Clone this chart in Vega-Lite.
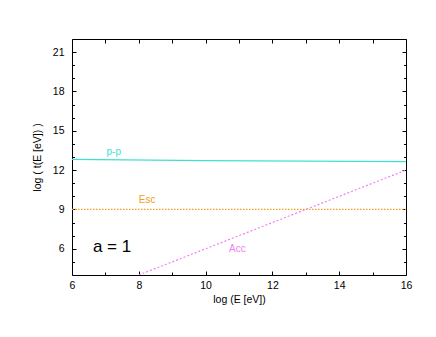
{
  "$schema": "https://vega.github.io/schema/vega-lite/v6.json",
  "width": 334,
  "height": 236,
  "autosize": "none",
  "padding": {"left": 72, "top": 39, "right": 30, "bottom": 62},
  "background": "white",
  "config": {
    "view": {"stroke": "#000", "strokeWidth": 1},
    "font": "Liberation Sans",
    "axis": {"grid": false, "domain": false, "labelFlush": false, "labelOverlap": false, "tickColor": "#000", "labelColor": "#000", "titleColor": "#000", "labelFont": "Liberation Sans", "titleFont": "Liberation Sans", "labelFontSize": 10.5, "titleFontSize": 10.5, "titleFontWeight": "normal"}
  },
  "datasets": {
    "lines": [
      {"series": "p-p", "E": 6, "t": 12.82},
      {"series": "p-p", "E": 10, "t": 12.72},
      {"series": "p-p", "E": 16, "t": 12.64},
      {"series": "Esc", "E": 6, "t": 9},
      {"series": "Esc", "E": 16, "t": 9},
      {"series": "Acc", "E": 8, "t": 4},
      {"series": "Acc", "E": 16, "t": 12}
    ],
    "labels": [
      {"series": "p-p", "E": 7.25, "t": 13.4},
      {"series": "Esc", "E": 8.25, "t": 9.7},
      {"series": "Acc", "E": 10.95, "t": 6.0}
    ],
    "note": [
      {"text": "a = 1", "E": 7.2, "t": 6.1}
    ]
  },
  "resolve": {"axis": {"x": "independent", "y": "independent"}},
  "layer": [
    {
      "data": {"name": "lines"},
      "transform": [{"filter": "datum.series === 'p-p'"}],
      "mark": {"type": "line", "color": "#40e0d0", "strokeWidth": 1.3, "clip": true},
      "encoding": {
        "x": {"field": "E", "type": "quantitative", "scale": {"domain": [6, 16], "nice": false, "zero": false},
          "axis": {"title": "log (E [eV])", "values": [6, 8, 10, 12, 14, 16], "tickSize": -4, "labelPadding": 9, "titlePadding": 4, "orient": "bottom"}},
        "y": {"field": "t", "type": "quantitative", "scale": {"domain": [4, 22], "nice": false, "zero": false},
          "axis": {"title": "log ( t(E [eV]) )", "values": [6, 9, 12, 15, 18, 21], "tickSize": -4, "labelPadding": 12, "titlePadding": 10, "orient": "left"}}
      }
    },
    {
      "data": {"name": "lines"},
      "transform": [{"filter": "datum.series === 'Esc'"}],
      "mark": {"type": "line", "color": "#f0a020", "strokeWidth": 1.3, "strokeDash": [1.5, 1.5], "clip": true},
      "encoding": {
        "x": {"field": "E", "type": "quantitative",
          "axis": {"title": null, "labels": false, "values": [7, 9, 11, 13, 15], "tickSize": -3, "orient": "bottom"}},
        "y": {"field": "t", "type": "quantitative",
          "axis": {"title": null, "labels": false, "values": [5, 7, 8, 10, 11, 13, 14, 16, 17, 19, 20], "tickSize": -2.5, "orient": "left"}}
      }
    },
    {
      "data": {"name": "lines"},
      "transform": [{"filter": "datum.series === 'Acc'"}],
      "mark": {"type": "line", "color": "#f080f0", "strokeWidth": 1.2, "strokeDash": [2, 2], "clip": true},
      "encoding": {
        "x": {"field": "E", "type": "quantitative",
          "axis": {"title": null, "labels": false, "values": [6, 7, 8, 9, 10, 11, 12, 13, 14, 15, 16], "tickSize": -4, "orient": "top"}},
        "y": {"field": "t", "type": "quantitative",
          "axis": {"title": null, "labels": false, "values": [6, 9, 12, 15, 18, 21], "tickSize": -4, "orient": "right"}}
      }
    },
    {
      "data": {"name": "labels"},
      "mark": {"type": "text", "fontSize": 10, "font": "Liberation Sans"},
      "encoding": {
        "x": {"field": "E", "type": "quantitative", "axis": null},
        "y": {"field": "t", "type": "quantitative",
          "axis": {"title": null, "labels": false, "values": [5, 7, 8, 10, 11, 13, 14, 16, 17, 19, 20], "tickSize": -2.5, "orient": "right"}},
        "text": {"field": "series"},
        "color": {"field": "series", "type": "nominal", "scale": {"domain": ["p-p", "Esc", "Acc"], "range": ["#40e0d0", "#f0a020", "#f080f0"]}, "legend": null}
      }
    },
    {
      "data": {"name": "note"},
      "mark": {"type": "text", "fontSize": 17, "font": "Liberation Sans", "color": "#000"},
      "encoding": {
        "x": {"field": "E", "type": "quantitative", "axis": null},
        "y": {"field": "t", "type": "quantitative", "axis": null},
        "text": {"field": "text"}
      }
    }
  ]
}
